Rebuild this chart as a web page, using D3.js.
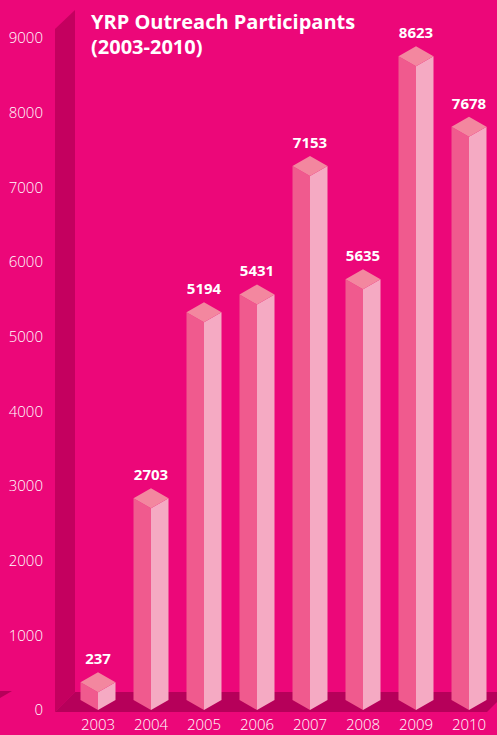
<!DOCTYPE html>
<html>
<head>
<meta charset="utf-8">
<script src="https://d3js.org/d3.v7.min.js"></script>
<style>
  body { margin: 0; background: #ec0779; }
  svg { display: block; font-family: "Open Sans", "Lato", sans-serif; }
</style>
</head>
<body>
<script>
  const years = ['2003', '2004', '2005', '2006', '2007', '2008', '2009', '2010']
  const participants = [237, 2703, 5194, 5431, 7153, 5635, 8623, 7678]
  const yTicks = [0, 1000, 2000, 3000, 4000, 5000, 6000, 7000, 8000, 9000]

  const width = 497
  const height = 735
  const half = 17.5   // half width of a bar seen from the corner
  const slope = 10    // vertical drop of the side edges

  const svg = d3.select('body').append('svg').attr('width', width).attr('height', height)

  const x = d3.scalePoint().domain(years).range([98, 469])
  const y = d3.scaleLinear().domain([0, 9000]).range([710, 38])

  svg.append('rect').attr('width', width).attr('height', height).attr('fill', '#ec0779')

  // back wall on the left
  svg.append('polygon')
    .attr('points', [[55, 29], [75, 10], [75, 692], [55, 712]].join(' '))
    .attr('fill', '#c4005f')

  // floor
  svg.append('polygon')
    .attr('points', [[55, 712], [75, 692], [507, 692], [487, 712]].join(' '))
    .attr('fill', '#b6005a')
  svg.append('polygon')
    .attr('points', [[0, 691], [12, 691], [0, 698]].join(' '))
    .attr('fill', '#b6005a')

  // y axis labels
  svg.append('g').selectAll('text')
    .data(yTicks)
    .join('text')
    .attr('x', 43)
    .attr('y', d => y(d))
    .attr('dy', '0.36em')
    .attr('text-anchor', 'end')
    .attr('fill', '#fff')
    .attr('font-size', 15)
    .attr('font-weight', 300)
    .text(d => d)

  // year labels
  svg.append('g').selectAll('text')
    .data(years)
    .join('text')
    .attr('x', d => x(d))
    .attr('y', 730)
    .attr('text-anchor', 'middle')
    .attr('fill', '#fff')
    .attr('font-size', 15)
    .attr('font-weight', 300)
    .text(d => d)

  const bars = years.map((yr, i) => ({ year: yr, value: participants[i] }))

  const bar = svg.append('g').selectAll('g')
    .data(bars)
    .join('g')

  // left face
  bar.append('polygon')
    .attr('fill', '#f05a8e')
    .attr('points', d => {
      const cx = x(d.year), top = y(d.value), bot = y(0)
      return [[cx - half, top - slope], [cx, top], [cx, bot], [cx - half, bot - slope]].join(' ')
    })
  // right face
  bar.append('polygon')
    .attr('fill', '#f5aac3')
    .attr('points', d => {
      const cx = x(d.year), top = y(d.value), bot = y(0)
      return [[cx, top], [cx + half, top - slope], [cx + half, bot - slope], [cx, bot]].join(' ')
    })
  // top
  bar.append('polygon')
    .attr('fill', '#f3879f')
    .attr('points', d => {
      const cx = x(d.year), top = y(d.value)
      return [[cx, top], [cx - half, top - slope], [cx, top - 2 * slope], [cx + half, top - slope]].join(' ')
    })

  // value labels
  bar.append('text')
    .attr('x', d => x(d.year))
    .attr('y', d => y(d.value) - 2 * slope - 8)
    .attr('text-anchor', 'middle')
    .attr('fill', '#fff')
    .attr('font-size', 15)
    .attr('font-weight', 700)
    .text(d => d.value)

  // title
  const title = svg.append('text')
    .attr('x', 91)
    .attr('fill', '#fff')
    .attr('font-size', 20)
    .attr('font-weight', 700)
  title.append('tspan').attr('x', 91).attr('y', 29).text('YRP Outreach Participants')
  title.append('tspan').attr('x', 91).attr('y', 54).text('(2003-2010)')
</script>
</body>
</html>
